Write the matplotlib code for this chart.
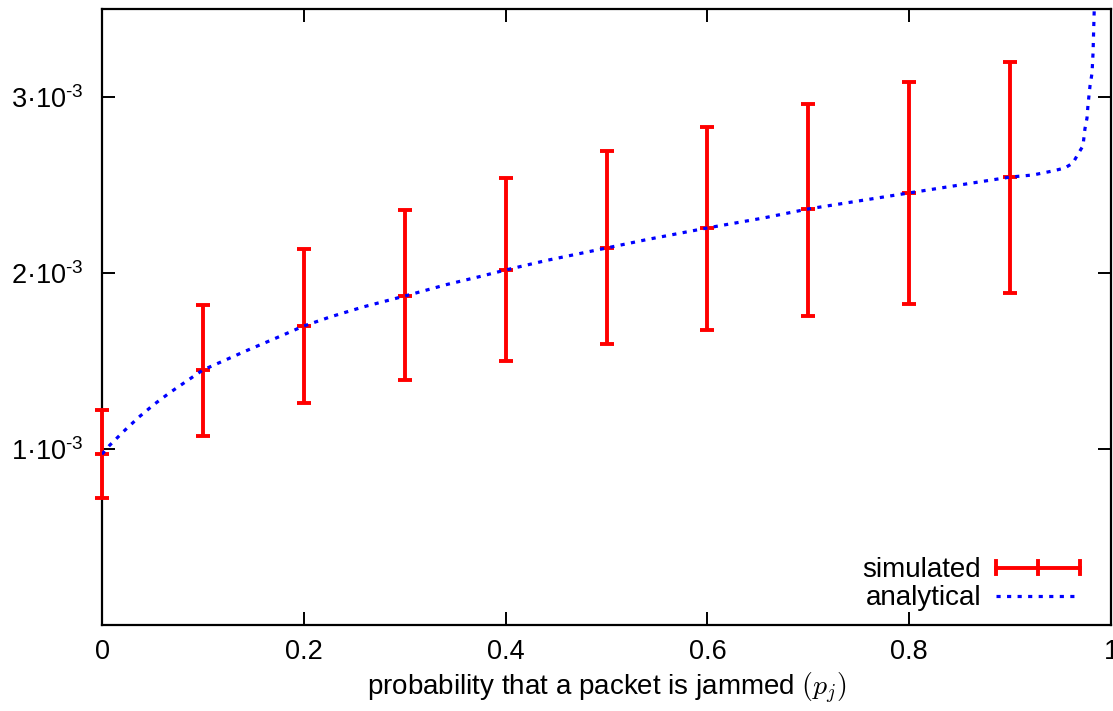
import matplotlib
matplotlib.use("Agg")
import matplotlib.pyplot as plt
from matplotlib.legend_handler import HandlerBase
from matplotlib.lines import Line2D
import numpy as np

plt.rcParams['font.family'] = ['Liberation Sans', 'DejaVu Sans']
plt.rcParams['mathtext.fontset'] = 'custom'
plt.rcParams['mathtext.rm'] = 'Liberation Sans'
plt.rcParams['mathtext.it'] = 'Liberation Sans:italic'

# ---- data ----
sim_x = [0.0, 0.1, 0.2, 0.3, 0.4, 0.5, 0.6, 0.7, 0.8, 0.9]
sim_mid = [0.972, 1.449, 1.699, 1.869, 2.017, 2.142, 2.256, 2.364, 2.455, 2.545]   # x1e-3
sim_low = [0.722, 1.074, 1.261, 1.392, 1.500, 1.597, 1.676, 1.756, 1.824, 1.886]
sim_high = [1.222, 1.818, 2.136, 2.358, 2.540, 2.693, 2.830, 2.960, 3.085, 3.199]

ana_x = [0.0, 0.0069, 0.0218, 0.0367, 0.0515, 0.0674, 0.0842, 0.100, 0.1437, 0.1764,
         0.200, 0.226, 0.2587, 0.300, 0.342, 0.3746, 0.400, 0.441, 0.500, 0.540,
         0.600, 0.655, 0.700, 0.800, 0.900, 0.9227, 0.9425, 0.9544, 0.9623, 0.9673,
         0.9722, 0.9742, 0.9762, 0.9772, 0.9792, 0.9812, 0.9822, 0.9832, 0.9845]
ana_y = [0.970, 1.017, 1.102, 1.182, 1.253, 1.321, 1.387, 1.449, 1.560, 1.640,
         1.699, 1.750, 1.807, 1.869, 1.935, 1.980, 2.017, 2.072, 2.142, 2.190,
         2.256, 2.312, 2.364, 2.455, 2.545, 2.557, 2.580, 2.597, 2.625, 2.676,
         2.722, 2.820, 2.880, 2.955, 3.063, 3.136, 3.250, 3.460, 3.700]

x_ticks = [0, 0.2, 0.4, 0.6, 0.8, 1.0]
x_ticklabels = ['0', '0.2', '0.4', '0.6', '0.8', '1']
y_ticks = [1e-3, 2e-3, 3e-3]
y_ticklabels = [r'1·10$^{\text{-3}}$', r'2·10$^{\text{-3}}$', r'3·10$^{\text{-3}}$']

scale = 1e-3
mid = np.array(sim_mid) * scale
low = np.array(sim_low) * scale
high = np.array(sim_high) * scale

fig = plt.figure(figsize=(11.13, 7.11), dpi=100)
ax = fig.add_axes([102/1113, 1 - 625/711, (1111-102)/1113, (625-9)/711])

red = '#ff0000'
blue = '#0000ff'
dot = (0, (1.3, 2.0))
eb = ax.errorbar(sim_x, mid, yerr=[mid - low, high - mid], fmt='none', ecolor=red,
                 elinewidth=2.8, capsize=5.0, capthick=2.8, zorder=3)
for art in eb.lines[1] + eb.lines[2]:
    art.set_clip_on(False)
ax.plot(sim_x, mid, ls='none', marker='_', ms=10, mew=2.8, color=red, zorder=3,
        clip_on=False)
ax.plot(ana_x, np.array(ana_y) * scale, color=blue, lw=2.3, ls=dot, zorder=4)

ax.set_xlim(0, 1.0)
ax.set_ylim(0, 3.5e-3)
ax.set_xticks(x_ticks)
ax.set_xticklabels(x_ticklabels)
ax.set_yticks(y_ticks)
ax.set_yticklabels(y_ticklabels)
ax.tick_params(direction='in', length=9.4, width=1.4, labelsize=19.5,
               top=True, right=True, pad=10)
ax.tick_params(axis='y', pad=13)
for s in ax.spines.values():
    s.set_linewidth(1.6)

ax.set_xlabel('probability that a packet is jammed $(p_j)$', fontsize=20,
              math_fontfamily='cm', labelpad=4)


class HandlerErr(HandlerBase):
    def create_artists(self, legend, orig_handle, xdescent, ydescent, width,
                       height, fontsize, trans):
        y = height / 2 - ydescent
        x0 = -xdescent
        x1 = x0 + width
        xm = (x0 + x1) / 2
        h = 4.6
        arts = [Line2D([x0, x1], [y, y], color=red, lw=2.8)]
        for xx in (x0, xm, x1):
            arts.append(Line2D([xx, xx], [y - h, y + h], color=red, lw=2.8))
        for a in arts:
            a.set_transform(trans)
        return arts


sim_handle = Line2D([], [], color=red)
ana_handle = Line2D([], [], color=blue, lw=2.3, ls=dot)
ax.legend([sim_handle, ana_handle], ['simulated', 'analytical'],
          handler_map={sim_handle: HandlerErr()},
          loc='lower right', bbox_to_anchor=(0.969, 0.022), frameon=False,
          fontsize=20, markerfirst=False, handlelength=3.0, handletextpad=0.55,
          labelspacing=0.08, borderpad=0, borderaxespad=0)

fig.savefig('out.png', dpi=100)
